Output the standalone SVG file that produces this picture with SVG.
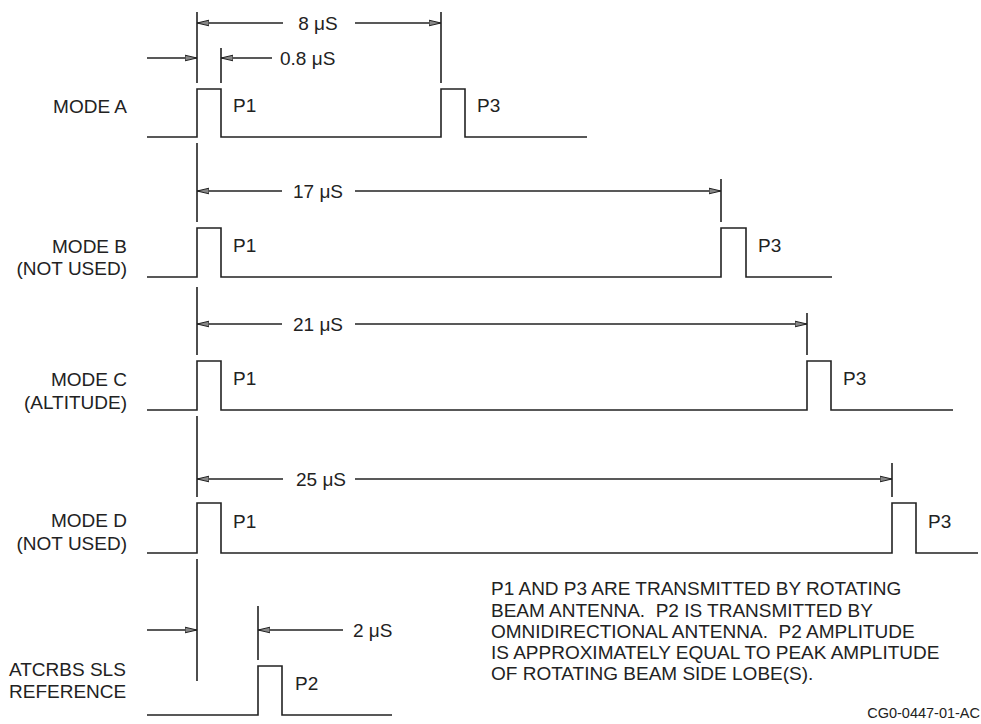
<svg xmlns="http://www.w3.org/2000/svg" width="981" height="724" viewBox="0 0 981 724">
<defs>
<style>
text{font-family:"Liberation Sans",Arial,sans-serif;font-size:19px;fill:#222;white-space:pre}
.r{text-anchor:end}
.m{text-anchor:middle}
.ln{fill:none;stroke:#222;stroke-width:1.6}
.ar{fill:none;stroke:#222;stroke-width:1.4;marker-end:url(#ah)}
</style>
<marker id="ah" markerUnits="userSpaceOnUse" markerWidth="14" markerHeight="8" refX="12" refY="4" orient="auto" viewBox="0 0 14 8">
<path d="M0,1.2 L12,4 L0,6.8 Z" fill="#888" stroke="#222" stroke-width="1"/>
</marker>
</defs>
<rect width="981" height="724" fill="#fff"/>

<g id="labels">
<text class="r" x="127" y="113">MODE A</text>
<text class="r" x="127" y="253">MODE B</text>
<text class="r" x="127" y="275">(NOT USED)</text>
<text class="r" x="127" y="386">MODE C</text>
<text class="r" x="127" y="409">(ALTITUDE)</text>
<text class="r" x="127" y="527">MODE D</text>
<text class="r" x="127" y="550">(NOT USED)</text>
<text x="9" y="676">ATCRBS SLS</text>
<text x="9" y="698">REFERENCE</text>
</g>

<g id="modeA">
<path class="ln" d="M147,137 H197 V89 H221 V137 H441 V89 H465 V137 H587"/>
<text x="233" y="112">P1</text>
<text x="477" y="112">P3</text>
</g>
<g id="modeB">
<path class="ln" d="M147,277 H197 V228 H221 V277 H721 V228 H746 V277 H832"/>
<text x="233" y="252">P1</text>
<text x="758" y="252">P3</text>
</g>
<g id="modeC">
<path class="ln" d="M147,410 H197 V361 H221 V410 H807 V361 H831 V410 H953"/>
<text x="233" y="385">P1</text>
<text x="843" y="385">P3</text>
</g>
<g id="modeD">
<path class="ln" d="M147,553 H197 V503 H221 V553 H892 V503 H916 V553 H978"/>
<text x="233" y="528">P1</text>
<text x="928" y="528">P3</text>
</g>
<g id="sls">
<path class="ln" d="M147,715 H258 V666 H282 V715 H392"/>
<text x="295" y="690">P2</text>
</g>

<g id="connectors">
<path class="ln" d="M197,12 V83 M197,143 V222 M197,287 V355 M197,416 V497 M197,559 V681"/>
<path class="ln" d="M441,12 V83 M221,48 V83 M721,179 V222 M807,313 V355 M892,463 V497 M258,606 V660"/>
<path class="ar" d="M283,23 H197"/>
<path class="ar" d="M355,23 H441"/>
<path class="ar" d="M147,58 H197"/>
<path class="ar" d="M272,58 H221"/>
<path class="ar" d="M282,191 H197"/>
<path class="ar" d="M355,191 H721"/>
<path class="ar" d="M282,324 H197"/>
<path class="ar" d="M355,324 H807"/>
<path class="ar" d="M283,479 H197"/>
<path class="ar" d="M355,479 H892"/>
<path class="ar" d="M147,630 H197"/>
<path class="ar" d="M343,630 H258"/>
</g>

<g id="dims">
<text class="m" x="318" y="30">8 μS</text>
<text x="280" y="65">0.8 μS</text>
<text class="m" x="318" y="198">17 μS</text>
<text class="m" x="318" y="331">21 μS</text>
<text class="m" x="321" y="486">25 μS</text>
<text x="353" y="637">2 μS</text>
</g>

<g id="note">
<text x="491" y="595">P1 AND P3 ARE TRANSMITTED BY ROTATING</text>
<text x="491" y="617">BEAM ANTENNA.  P2 IS TRANSMITTED BY</text>
<text x="491" y="638">OMNIDIRECTIONAL ANTENNA.  P2 AMPLITUDE</text>
<text x="491" y="659">IS APPROXIMATELY EQUAL TO PEAK AMPLITUDE</text>
<text x="491" y="680">OF ROTATING BEAM SIDE LOBE(S).</text>
<text class="r" x="980" y="718" style="font-size:14.5px">CG0-0447-01-AC</text>
</g>
</svg>
